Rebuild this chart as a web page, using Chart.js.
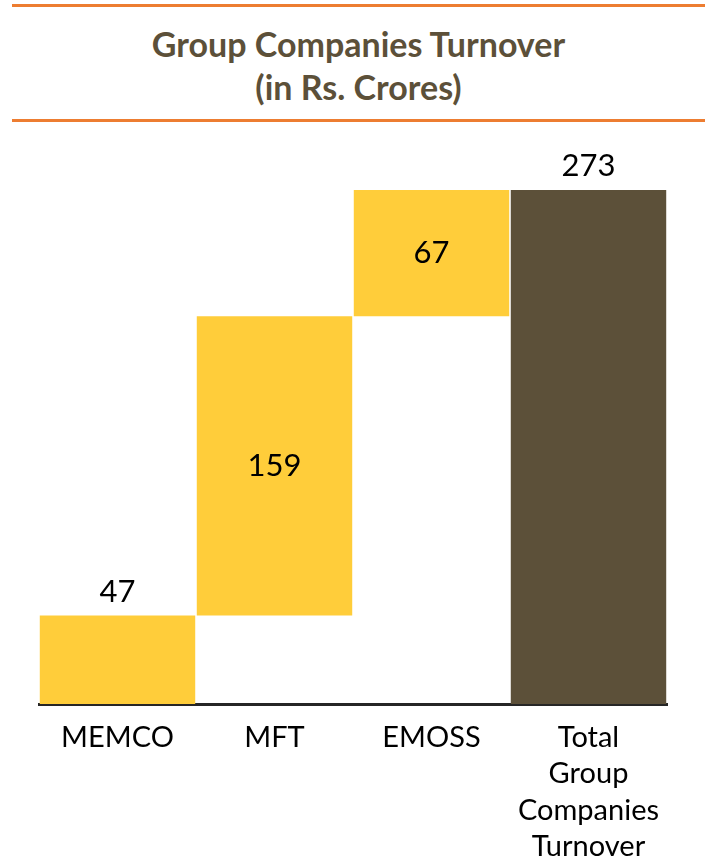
<!DOCTYPE html>
<html>
<head>
<meta charset="utf-8">
<script src="https://cdn.jsdelivr.net/npm/chart.js@4.4.0/dist/chart.umd.min.js"></script>
<style>
  body { margin: 0; background: #fff; }
  #wrap { position: relative; width: 712px; height: 861px; overflow: hidden; }
  #head {
    position: absolute; left: 12px; top: 4px; width: 693px; height: 112px;
    border-top: 3px solid #ED7D31; border-bottom: 3px solid #ED7D31;
    font-family: Lato, sans-serif; font-weight: bold; font-size: 34px;
    color: #5C5039; text-align: center; line-height: 43px;
    box-sizing: content-box;
  }
  #head div:first-child { padding-top: 15px; }
  canvas { position: absolute; left: 0; top: 0; }
</style>
</head>
<body>
<div id="wrap">
  <div id="head"><div>Group Companies Turnover</div><div>(in Rs. Crores)</div></div>
  <canvas id="turnoverChart" width="712" height="861"></canvas>
</div>
<script>
const categories = [['MEMCO'], ['MFT'], ['EMOSS'], ['Total', 'Group', 'Companies', 'Turnover']];
const values = [47, 159, 67, 273];
const bases = [0, 47, 206, 0];
const labelInside = [false, true, true, false];
const barColors = ['#FFCD3A', '#FFCD3A', '#FFCD3A', '#5C5039'];

const valueLabels = {
    id: 'valueLabels',
    afterDatasetsDraw(chart) {
        const ctx = chart.ctx;
        const meta = chart.getDatasetMeta(0);
        ctx.save();
        ctx.font = '31px Lato, sans-serif';
        ctx.fillStyle = '#000';
        ctx.textAlign = 'center';
        meta.data.forEach((bar, i) => {
            if (labelInside[i]) {
                ctx.textBaseline = 'middle';
                ctx.fillText(values[i], bar.x, (bar.y + bar.base) / 2);
            } else {
                ctx.textBaseline = 'alphabetic';
                ctx.fillText(values[i], bar.x, bar.y - 14);
            }
        });
        ctx.restore();
    }
};

const ctx = document.getElementById('turnoverChart').getContext('2d');
new Chart(ctx, {
    type: 'bar',
    data: {
        labels: categories,
        datasets: [{
            data: bases.map((b, i) => [b, b + values[i]]),
            backgroundColor: barColors,
            borderWidth: 0,
            barPercentage: 1,
            categoryPercentage: 0.99
        }]
    },
    options: {
        responsive: false,
        animation: false,
        layout: { padding: { left: 39, right: 45, top: 190, bottom: 0 } },
        scales: {
            x: {
                grid: { display: false },
                border: { display: true, color: '#262626', width: 3 },
                ticks: {
                    color: '#000',
                    padding: 7,
                    maxRotation: 0,
                    font: { family: 'Lato, sans-serif', size: 29, lineHeight: 1.26 }
                },
                afterFit(scale) { scale.height = 157; }
            },
            y: {
                display: false,
                min: 0,
                max: 273
            }
        },
        plugins: {
            legend: { display: false },
            tooltip: { enabled: false }
        }
    },
    plugins: [valueLabels]
});
</script>
</body>
</html>
